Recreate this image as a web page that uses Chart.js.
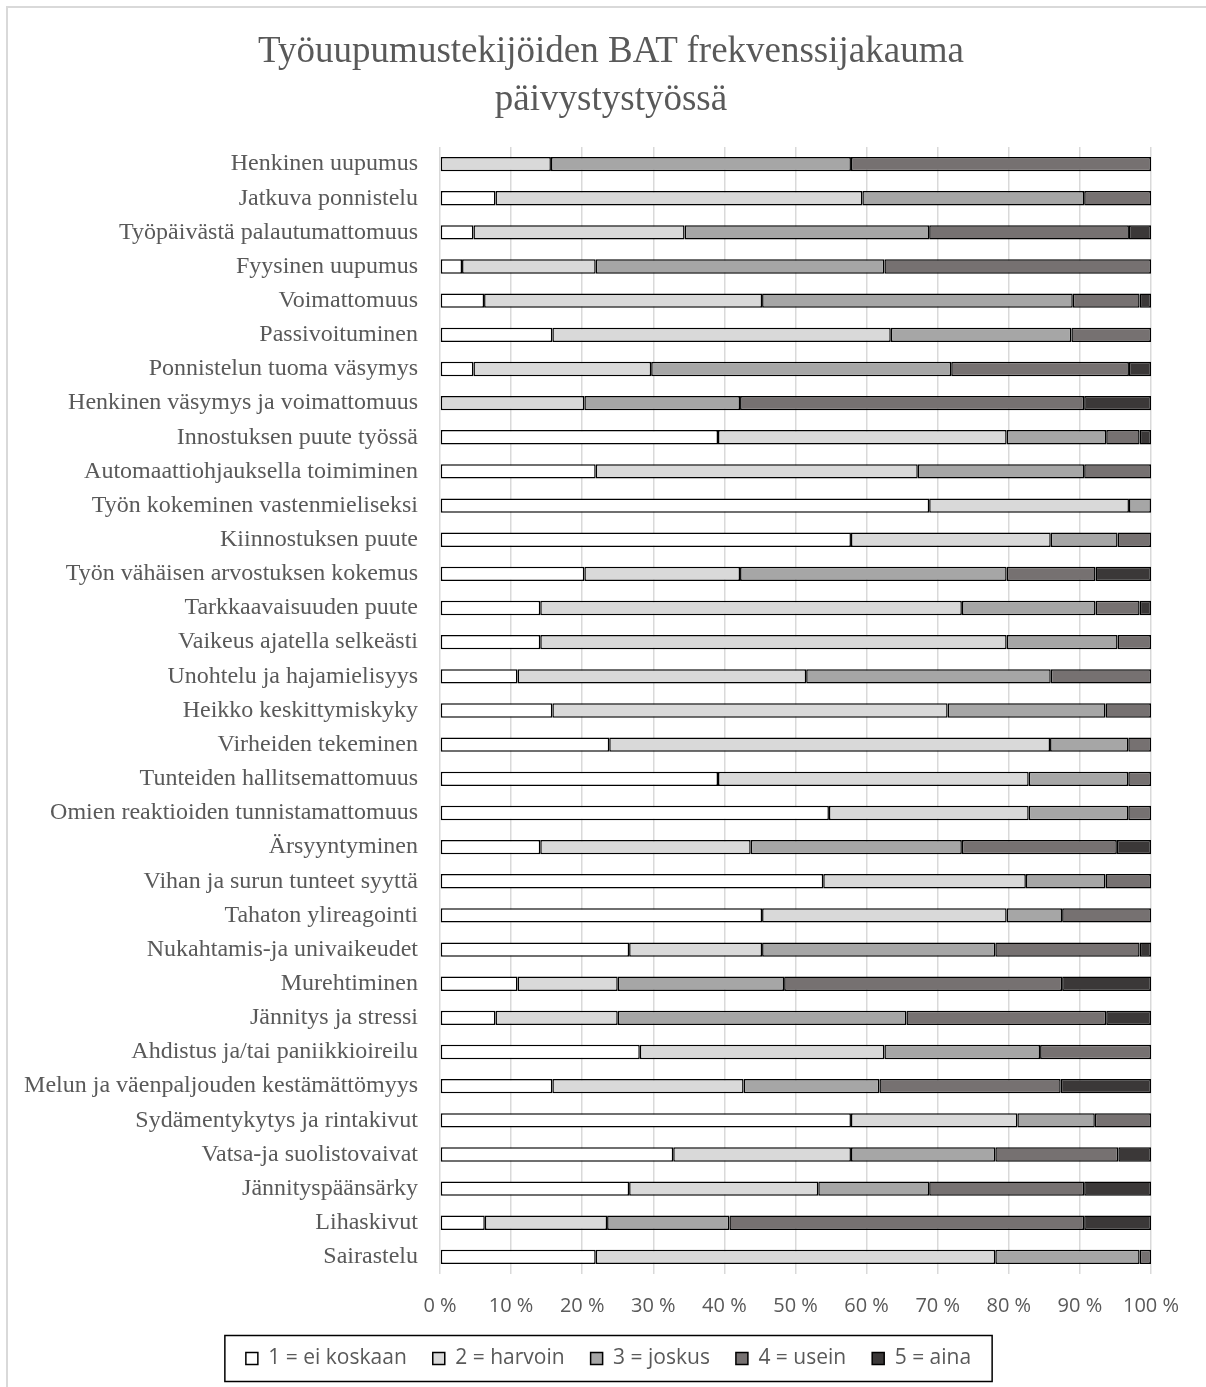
<!DOCTYPE html>
<html>
<head>
<meta charset="utf-8">
<script src="https://cdn.jsdelivr.net/npm/chart.js@4.4.1/dist/chart.umd.min.js"></script>
<style>
  html, body { margin: 0; padding: 0; background: #fff; }
  body { width: 1206px; height: 1387px; position: relative; overflow: hidden; }
  #frame { position: absolute; left: 6px; top: 6px; width: 1300px; height: 1500px;
           border-top: 2px solid #d9d9d9; border-left: 2px solid #d9d9d9; }
  #wrap { position: absolute; left: 0; top: 0; width: 1206px; height: 1387px; }
  #title { position: absolute; left: 0; top: 26px; width: 1222px; text-align: center;
           font-family: 'Liberation Serif', 'DejaVu Serif', serif; font-size: 37px;
           line-height: 48px; color: #595959; }
</style>
</head>
<body>
<div id="frame"></div>
<div id="wrap"><canvas id="batChart"></canvas></div>
<div id="title">Työuupumustekijöiden BAT frekvenssijakauma<br>päivystystyössä</div>
<script>
// Categories (top to bottom)
const categories = [
    'Henkinen uupumus', 'Jatkuva ponnistelu', 'Työpäivästä palautumattomuus', 'Fyysinen uupumus',
    'Voimattomuus', 'Passivoituminen', 'Ponnistelun tuoma väsymys', 'Henkinen väsymys ja voimattomuus',
    'Innostuksen puute työssä', 'Automaattiohjauksella toimiminen', 'Työn kokeminen vastenmieliseksi',
    'Kiinnostuksen puute', 'Työn vähäisen arvostuksen kokemus', 'Tarkkaavaisuuden puute',
    'Vaikeus ajatella selkeästi', 'Unohtelu ja hajamielisyys', 'Heikko keskittymiskyky',
    'Virheiden tekeminen', 'Tunteiden hallitsemattomuus', 'Omien reaktioiden tunnistamattomuus',
    'Ärsyyntyminen', 'Vihan ja surun tunteet syyttä', 'Tahaton ylireagointi',
    'Nukahtamis-ja univaikeudet', 'Murehtiminen', 'Jännitys ja stressi',
    'Ahdistus ja/tai paniikkioireilu', 'Melun ja väenpaljouden kestämättömyys',
    'Sydämentykytys ja rintakivut', 'Vatsa-ja suolistovaivat', 'Jännityspäänsärky',
    'Lihaskivut', 'Sairastelu'
];

// Percent shares per answer option
const eiKoskaan = [0, 7.8, 4.7, 3.1, 6.2, 15.8, 4.7, 0, 39.1, 21.9, 68.8, 57.8, 20.3, 14.1, 14.1, 10.9, 15.8,
    23.8, 39.1, 54.7, 14.1, 53.9, 45.3, 26.6, 10.9, 7.8, 28.1, 15.8, 57.8, 32.8, 26.6, 6.3, 21.9];
const harvoin = [15.6, 51.6, 29.7, 18.8, 39.1, 47.6, 25.0, 20.3, 40.6, 45.3, 28.1, 28.1, 21.9, 59.3, 65.6, 40.6, 55.6,
    62.0, 43.7, 28.1, 29.6, 28.5, 34.4, 18.7, 14.1, 17.2, 34.4, 26.9, 23.4, 25.0, 26.6, 17.2, 56.2];
const joskus = [42.2, 31.2, 34.4, 40.6, 43.7, 25.4, 42.2, 21.9, 14.0, 23.4, 3.1, 9.4, 37.5, 18.8, 15.6, 34.4, 22.2,
    11.0, 14.0, 14.0, 29.7, 11.2, 7.8, 32.8, 23.4, 40.6, 21.9, 19.1, 10.9, 20.3, 15.6, 17.2, 20.3];
const usein = [42.2, 9.4, 28.1, 37.5, 9.4, 11.2, 25.0, 48.4, 4.7, 9.4, 0, 4.7, 12.5, 6.2, 4.7, 14.1, 6.4,
    3.2, 3.2, 3.2, 21.8, 6.4, 12.5, 20.3, 39.1, 28.1, 15.6, 25.5, 7.9, 17.3, 21.8, 49.9, 1.6];
const aina = [0, 0, 3.1, 0, 1.6, 0, 3.1, 9.4, 1.6, 0, 0, 0, 7.8, 1.6, 0, 0, 0,
    0, 0, 0, 4.8, 0, 0, 1.6, 12.5, 6.3, 0, 12.7, 0, 4.6, 9.4, 9.4, 0];

const seriesLabels = ['1 = ei koskaan', '2 = harvoin', '3 = joskus', '4 = usein', '5 = aina'];
const seriesColors = ['#ffffff', '#d9d9d9', '#a6a6a6', '#767171', '#3b3838'];
const xTicks = [0, 10, 20, 30, 40, 50, 60, 70, 80, 90, 100];

const seriesData = [eiKoskaan, harvoin, joskus, usein, aina];

// legend sits a bit right of the canvas centre and has a frame around it
const legendBox = {
    id: 'legendBox',
    afterLayout(chart) {
        const lg = chart.legend;
        if (!lg) return;
        lg.left += 33;
        lg.right += 33;
    },
    afterDraw(chart) {
        const lg = chart.legend;
        if (!lg || !lg.legendHitBoxes || !lg.legendHitBoxes.length) return;
        const boxes = lg.legendHitBoxes;
        let minX = Infinity, maxX = -Infinity, minY = Infinity, maxY = -Infinity;
        boxes.forEach(b => {
            minX = Math.min(minX, b.left);
            maxX = Math.max(maxX, b.left + b.width);
            minY = Math.min(minY, b.top);
            maxY = Math.max(maxY, b.top + b.height);
        });
        const cy = (minY + maxY) / 2;
        const ctx = chart.ctx;
        ctx.save();
        ctx.strokeStyle = '#000';
        ctx.lineWidth = 1.5;
        ctx.strokeRect(minX - 21, cy - 23, (maxX - minX) + 42, 46);
        ctx.restore();
    }
};

const ctx = document.getElementById('batChart').getContext('2d');
const chart = new Chart(ctx, {
    type: 'bar',
    data: {
        labels: categories,
        datasets: seriesLabels.map((label, i) => ({
            label: label,
            data: seriesData[i],
            backgroundColor: seriesColors[i],
            borderColor: '#000',
            borderWidth: 1.5,
            borderSkipped: false,
            barPercentage: 0.42,
            categoryPercentage: 1
        }))
    },
    options: {
        indexAxis: 'y',
        responsive: true,
        maintainAspectRatio: false,
        animation: false,
        layout: { padding: { top: 147, right: 55, bottom: 8, left: 0 } },
        scales: {
            x: {
                stacked: true,
                min: 0,
                max: 100,
                afterBuildTicks: scale => { scale.ticks = xTicks.map(v => ({ value: v })); },
                afterFit: scale => { scale.height = 48; },
                ticks: {
                    callback: v => v + ' %',
                    color: '#595959',
                    padding: 20,
                    maxRotation: 0,
                    font: { family: "'Open Sans', sans-serif", size: 20 }
                },
                grid: { color: '#d9d9d9', lineWidth: 1.5, drawTicks: false },
                border: { display: false }
            },
            y: {
                stacked: true,
                afterFit: scale => { scale.width = 440; },
                ticks: {
                    color: '#595959',
                    padding: 22,
                    autoSkip: false,
                    font: { family: "'Liberation Serif', 'DejaVu Serif', serif", size: 24 }
                },
                grid: { display: false, drawTicks: false },
                border: { display: false }
            }
        },
        plugins: {
            title: { display: false },
            legend: {
                display: true,
                position: 'bottom',
                labels: {
                    color: '#595959',
                    boxWidth: 12,
                    boxHeight: 12,
                    padding: 26,
                    font: { family: "'Open Sans', sans-serif", size: 21 }
                }
            },
            tooltip: { enabled: false }
        }
    },
    plugins: [legendBox]
});
</script>
</body>
</html>
